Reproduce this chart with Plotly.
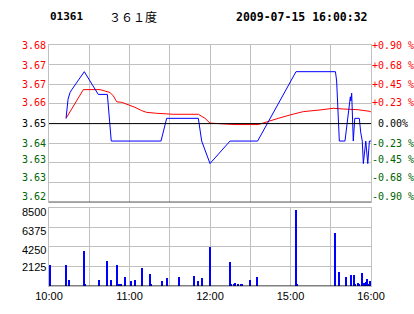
import plotly.graph_objects as go

# ---- data ----
prev_close = 3.65
max_pct = 0.009
price_tick_labels = ["3.62", "3.63", "3.63", "3.64", "3.65", "3.66", "3.67", "3.67", "3.68"]
pct_tick_labels = ["-0.90 %", "-0.68 %", "-0.45 %", "-0.23 %", " 0.00%", "+0.23 %", "+0.45 %", "+0.68 %", "+0.90 %"]
vol_tick_vals = [2125, 4250, 6375, 8500]
vol_tick_labels = ["2125", "4250", "6375", "8500"]
time_tick_vals = [0, 60, 120, 180, 240]
time_tick_labels = ["10:00", "11:00", "12:00", "15:00", "16:00"]

price_t = [12.7, 14.2, 15.7, 16.9, 26.3, 33.8, 36.7, 43.5, 44.9, 46.4, 83.5, 87.7, 111.3,
           113.8, 120.0, 134.9, 155.5, 184.1, 213.5, 214.4, 216.4, 220.6, 224.6, 225.0,
           225.6, 226.8, 227.9, 231.3, 232.3, 233.5, 234.3, 236.1, 237.6, 238.8, 240.0]
price_v = [3.6522, 3.6602, 3.6630, 3.6641, 3.6717, 3.6647, 3.6622, 3.6622, 3.6506, 3.6427,
           3.6427, 3.6522, 3.6522, 3.6427, 3.6333, 3.6427, 3.6427, 3.6717, 3.6717, 3.6678,
           3.6427, 3.6427, 3.6612, 3.6595, 3.6627, 3.6427, 3.6522, 3.6522, 3.6465, 3.6427,
           3.6333, 3.6427, 3.6333, 3.6427, 3.6427]

avg_t = [12.7, 25.6, 38.0, 41.7, 45.5, 47.9, 50.5, 54.2, 59.1, 64.1, 69.1, 72.8, 80.3,
         92.6, 111.3, 116.3, 120.0, 127.5, 138.6, 156.0, 162.3, 170.9, 179.6, 189.5,
         202.0, 211.9, 219.3, 230.5, 239.3, 240.0]
avg_v = [3.6522, 3.6642, 3.6642, 3.6637, 3.6630, 3.6616, 3.6591, 3.6589, 3.6580, 3.6568,
         3.6554, 3.6547, 3.6543, 3.6539, 3.6539, 3.6522, 3.6502, 3.6500, 3.6496, 3.6496,
         3.6508, 3.6522, 3.6536, 3.6550, 3.6557, 3.6564, 3.6561, 3.6558, 3.6551, 3.6548]

vol_t = [1, 13, 15, 26, 27, 37, 43, 46, 51, 52, 54, 57, 61, 64, 69, 75, 76, 84, 88, 97,
         108, 111, 114, 120, 135, 136, 138, 139, 141, 143, 144, 150, 155, 184, 185, 213,
         216, 221, 225, 227, 228, 230, 231, 233, 234, 235, 236, 237, 238, 239, 240]
vol_v = [2325, 2325, 710, 3830, 250, 710, 2755, 710, 2325, 250, 250, 1000, 600, 710, 1970,
         1320, 250, 600, 890, 1000, 1110, 600, 890, 4230, 2615, 250, 250, 355, 250, 250,
         250, 680, 1000, 8320, 250, 5740, 1540, 1000, 1215, 1215, 250, 355, 250, 1430,
         355, 355, 500, 785, 250, 540, 600]

# ---- derived ----
step = prev_close * max_pct / 4
price_tick_vals = [prev_close + k * step for k in range(-4, 5)]
prange = [prev_close - 4 * step, prev_close + 4 * step]

RED = "#FF0000"
GREEN = "#006400"
GRID = "#C0C0C0"

def col(i):
    return RED if i > 4 else ("#000000" if i == 4 else GREEN)

# vertical label offsets (pixels, positive = up), bottom -> top
label_shift = [5.8, 5, 3.5, 0, 0, 1.7, 0, -1, -0.8]
vol_label_shift = [-0.7, -2.7, -3.4, -4]

fig = go.Figure()
fig.add_trace(go.Scatter(x=avg_t, y=avg_v, mode="lines", line=dict(color=RED, width=1),
                         xaxis="x", yaxis="y", hoverinfo="skip"))
fig.add_trace(go.Scatter(x=price_t, y=price_v, mode="lines", line=dict(color="#0000FF", width=1),
                         xaxis="x", yaxis="y", hoverinfo="skip"))
fig.add_trace(go.Bar(x=vol_t, y=vol_v, width=0.75, marker=dict(color="#0000FF", line=dict(width=0)),
                     xaxis="x2", yaxis="y2", hoverinfo="skip"))

H_PLOT = 314 - 45 - 26
price_dom = [(288 - 203.5) / H_PLOT, 1]
vol_dom = [0, (288 - 209) / H_PLOT]

axis_common = dict(showgrid=True, gridcolor=GRID, gridwidth=1, showline=True, linecolor=GRID,
                   linewidth=1, mirror=True, ticks="", zeroline=False, fixedrange=True)

fig.update_layout(
    width=414, height=314,
    margin=dict(l=49, r=43, t=45, b=26, pad=0),
    paper_bgcolor="white", plot_bgcolor="white",
    showlegend=False, bargap=0,
    xaxis=dict(axis_common, range=[0, 240], tickvals=list(range(0, 241, 30)),
               showticklabels=False, anchor="y", domain=[0, 1]),
    yaxis=dict(axis_common, range=prange, tickvals=price_tick_vals,
               showticklabels=False, domain=price_dom, anchor="x"),
    xaxis2=dict(axis_common, range=[0, 240], tickvals=list(range(0, 241, 30)),
                ticktext=["10:00", "", "11:00", "", "12:00", "", "15:00", "", "16:00"],
                tickfont=dict(family="Liberation Sans", size=11, color="black"),
                anchor="y2", domain=[0, 1]),
    yaxis2=dict(axis_common, range=[0, 8500], tickvals=[0] + vol_tick_vals,
                showticklabels=False, domain=vol_dom, anchor="x2"),
)

# black reference lines
fig.add_shape(type="line", xref="x", yref="y", x0=0, x1=240, y0=prev_close, y1=prev_close,
              line=dict(color="black", width=1))
fig.add_shape(type="line", xref="x", yref="y", x0=0, x1=240, y0=prange[0], y1=prange[0],
              line=dict(color="black", width=1))
fig.add_shape(type="line", xref="x2", yref="y2", x0=0, x1=240, y0=0, y1=0,
              line=dict(color="black", width=1))

# left price labels and right percentage labels
for i, v in enumerate(price_tick_vals):
    fig.add_annotation(x=0, xref="paper", y=v, yref="y", text=price_tick_labels[i], showarrow=False,
                       xanchor="right", yanchor="middle", xshift=-1, yshift=label_shift[i],
                       font=dict(family="DejaVu Sans Mono", size=10, color=col(i)))
    fig.add_annotation(x=1, xref="paper", y=v, yref="y", text=pct_tick_labels[i], showarrow=False,
                       xanchor="left", yanchor="middle", xshift=-1, yshift=label_shift[i],
                       font=dict(family="DejaVu Sans Mono", size=10, color=col(i)))

# volume labels
for v, t, s in zip(vol_tick_vals, vol_tick_labels, vol_label_shift):
    fig.add_annotation(x=0, xref="paper", y=v, yref="y2", text=t, showarrow=False,
                       xanchor="right", yanchor="middle", xshift=-1, yshift=s,
                       font=dict(family="Liberation Sans", size=11, color="black"))

# header
hy = 1 + (45 - 16.5) / H_PLOT
fig.add_annotation(x=0, xref="paper", y=hy, yref="paper", text="<b>01361</b>",
                   showarrow=False, xanchor="left", yanchor="middle", xshift=-1,
                   font=dict(family="DejaVu Sans Mono", size=11, color="black"))
fig.add_annotation(x=(107 - 49) / 322, xref="paper", y=hy, yref="paper",
                   text="３６１度", showarrow=False, xanchor="left", yanchor="middle",
                   font=dict(family="Noto Sans CJK SC", size=12, color="black"))
fig.add_annotation(x=(370 - 49) / 322, xref="paper", y=hy, yref="paper",
                   text="<b>2009-07-15 16:00:32</b>", showarrow=False, xanchor="right", yanchor="middle",
                   font=dict(family="DejaVu Sans Mono", size=11.5, color="black"))

fig.write_html("out.html")
